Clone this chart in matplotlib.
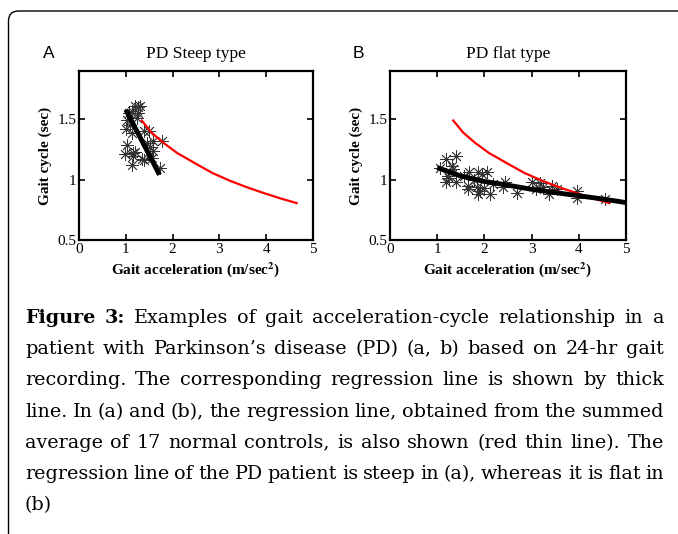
import numpy as np
import matplotlib.pyplot as plt
from matplotlib.patches import FancyBboxPatch

# panel A - PD steep type (scatter of gait cycle vs acceleration)
a_acc = [1.31, 1.20, 1.13, 1.02, 1.01, 1.13, 1.24, 1.38, 1.49, 1.59, 1.77, 1.02,
         0.99, 1.16, 1.16, 1.13, 1.38, 1.34, 1.56, 1.59, 1.74, 1.52, 1.27, 1.06,
         1.10, 1.20, 1.45, 1.25]
a_cyc = [1.61, 1.61, 1.57, 1.49, 1.42, 1.39, 1.51, 1.40, 1.40, 1.32, 1.32, 1.29,
         1.21, 1.22, 1.20, 1.12, 1.16, 1.17, 1.18, 1.24, 1.10, 1.27, 1.55, 1.55,
         1.45, 1.23, 1.30, 1.60]
a_fit_x = [1.0, 1.36, 1.72]
a_fit_y = [1.58, 1.31, 1.04]

# panel B - PD flat type
b_acc = [1.06, 1.19, 1.40, 1.31, 1.34, 1.24, 1.19, 1.40, 1.56, 1.68, 1.66, 1.87,
         1.94, 2.05, 1.84, 1.91, 1.87, 2.12, 2.19, 2.44, 2.40, 2.69, 3.01, 3.18,
         3.25, 3.36, 3.44, 3.54, 3.97, 3.96, 4.56, 1.66, 1.22, 1.78, 2.00, 3.10]
b_cyc = [1.10, 1.17, 1.20, 1.11, 1.09, 1.01, 0.98, 0.98, 1.03, 1.06, 0.92, 1.06,
         1.05, 1.06, 0.94, 0.91, 0.88, 0.88, 0.96, 0.98, 0.94, 0.89, 0.98, 0.97,
         0.94, 0.88, 0.95, 0.92, 0.91, 0.85, 0.84, 0.95, 1.03, 1.00, 0.93, 0.92]
b_fit_x = [1.0, 1.5, 2.0, 2.33, 3.0, 3.74, 4.5, 5.0]
b_fit_y = [1.10, 1.03, 0.985, 0.965, 0.92, 0.88, 0.84, 0.81]

# summed average of 17 normal controls (red)
norm_x = [1.34, 1.55, 1.80, 2.1, 2.51, 2.85, 3.23, 3.6, 3.94, 4.3, 4.65]
norm_y = [1.49, 1.39, 1.306, 1.22, 1.129, 1.055, 0.99, 0.935, 0.89, 0.845, 0.806]

caption = [
    [("Figure", "bold"), ("3:", "bold"), "Examples", "of", "gait", "acceleration-cycle",
     "relationship", "in", "a"],
    "patient with Parkinson\u2019s disease (PD) (a, b) based on 24-hr gait".split(),
    "recording. The corresponding regression line is shown by thick".split(),
    "line. In (a) and (b), the regression line, obtained from the summed".split(),
    "average of 17 normal controls, is also shown (red thin line). The".split(),
    "regression line of the PD patient is steep in (a), whereas it is flat in".split(),
    ["(b)"],
]

W, H = 678, 534
fig = plt.figure(figsize=(W / 100, H / 100), dpi=100)
plt.rcParams['font.family'] = ['Liberation Serif', 'DejaVu Serif']
plt.rcParams['mathtext.fontset'] = 'stix'

frame = FancyBboxPatch((8.5, -30), 720, H - 11 + 30, boxstyle="round,pad=0,rounding_size=10",
                       transform=None, fill=False, lw=1.0, ec='black')
fig.patches.append(frame)


def setup(ax, title):
    ax.set_xlim(0, 5)
    ax.set_ylim(0.5, 1.9)
    ax.set_xticks([0, 1, 2, 3, 4, 5])
    ax.set_yticks([0.5, 1, 1.5])
    ax.set_yticklabels(["0.5", "1", "1.5"])
    ax.tick_params(direction='in', top=True, right=True, length=4, width=1.2,
                   labelsize=11, pad=2)
    for s in ax.spines.values():
        s.set_linewidth(1.6)
    ax.set_title(title, fontsize=12.5, pad=9)
    ax.set_xlabel("Gait acceleration (m/sec$^\\mathbf{2}$)", fontsize=11, fontweight='bold', labelpad=3)
    ax.set_ylabel("Gait cycle (sec)", fontsize=11, fontweight='bold', labelpad=4)


axA = fig.add_axes([79 / W, 1 - 240 / H, 234 / W, 169 / H])
axB = fig.add_axes([390 / W, 1 - 240 / H, 236 / W, 169 / H])

star = (8, 2, 0)
axA.plot(a_acc, a_cyc, ls='none', marker=star, ms=9, mec='#333333', mew=0.6)
axA.plot(norm_x, norm_y, color='red', lw=1.6)
axA.plot(a_fit_x, a_fit_y, color='black', lw=3.5, solid_capstyle='butt')
setup(axA, "PD Steep type")

axB.plot(b_acc, b_cyc, ls='none', marker=star, ms=9, mec='#333333', mew=0.6)
axB.plot(norm_x, norm_y, color='red', lw=1.6)
axB.plot(b_fit_x, b_fit_y, color='black', lw=3.5, solid_capstyle='butt')
setup(axB, "PD flat type")

fig.text(49 / W, 1 - 53 / H, "A", family='Liberation Sans', fontsize=12.5, ha='center', va='center')
fig.text(358 / W, 1 - 53 / H, "B", family='Liberation Sans', fontsize=12.5, ha='center', va='center')

# justified caption; font size picked so the tightest line just fits
fig.canvas.draw()
rend = fig.canvas.get_renderer()
left, right = 25, 664
y0, dy = 323, 31.2
cap_font = 'DejaVu Serif'


def word_widths(words, size):
    ws = []
    for w, wt in words:
        t = fig.text(0, 0, w, fontsize=size, fontweight=wt, family=cap_font, transform=None)
        ws.append(t.get_window_extent(rend).width)
        t.remove()
    return ws


lines = [[(w, "normal") if isinstance(w, str) else w for w in line] for line in caption]
base = 12.0
need = []
for words in lines[:-1]:
    ws = word_widths(words, base)
    need.append(sum(ws) + 0.27 * base * 100 / 72 * (len(words) - 1))
fs = base * (right - left) / max(need)

for i, words in enumerate(lines):
    widths = word_widths(words, fs)
    if i < len(lines) - 1 and len(words) > 1:
        gap = (right - left - sum(widths)) / (len(words) - 1)
    else:
        gap = fs * 0.3
    x = left
    for (w, wt), wd in zip(words, widths):
        fig.text(x, H - (y0 + i * dy), w, fontsize=fs, fontweight=wt, family=cap_font,
                 transform=None, va='baseline')
        x += wd + gap

fig.savefig("out.png", dpi=100)
